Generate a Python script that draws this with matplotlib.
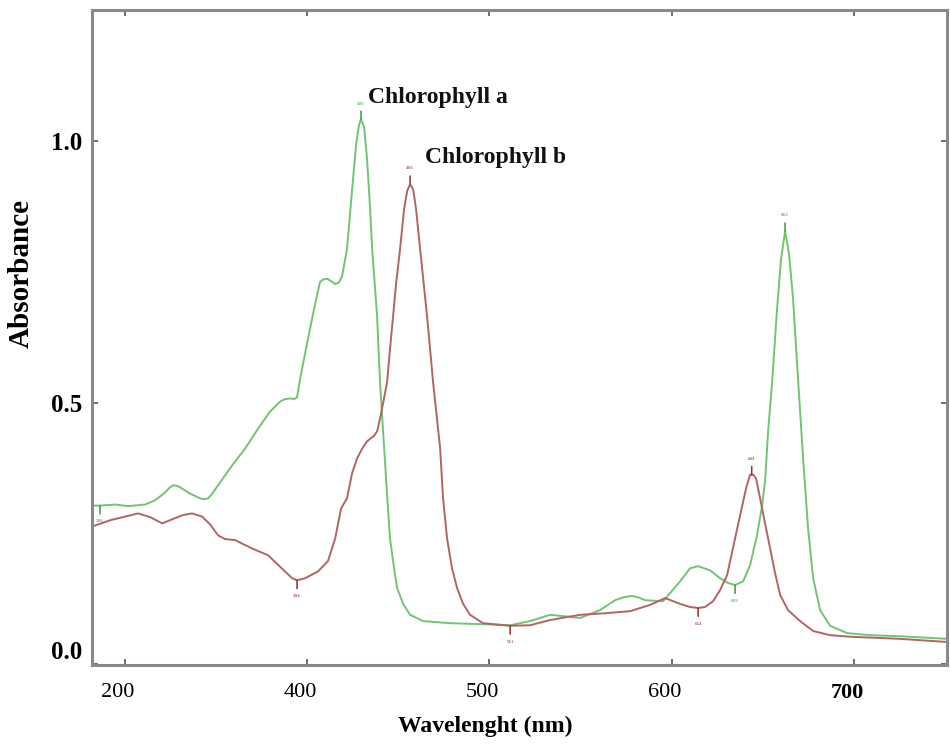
import matplotlib
matplotlib.use("Agg")
import matplotlib.pyplot as plt
from matplotlib.transforms import ScaledTranslation

# Chlorophyll a (green trace)
chl_a_nm = [282.1, 286.4, 294.7, 301.8, 311.1, 316.6, 322.1, 324.5, 326.5, 328.5,
            330.3, 335.8, 341.3, 343.5, 345.7, 348.0, 351.2, 358.9, 366.0, 373.1,
            379.7, 385.2, 388.0, 390.7, 393.0, 394.5, 396.2, 398.9, 401.6, 404.4,
            407.1, 409.0, 411.0, 413.0, 415.4, 417.5, 419.2, 421.9, 424.7,
            426.9, 428.5, 429.6, 431.3, 432.9, 434.6, 435.7, 438.4, 440.0, 441.7,
            443.9, 445.5, 447.7, 449.4, 452.7, 456.5, 463.6, 478.4, 496.5, 511.4,
            522.3, 533.3, 549.8, 560.7, 569.0, 574.0, 578.3, 582.0, 585.4, 595.3,
            604.6, 610.1, 614.5, 621.1, 626.5, 630.9, 634.8, 639.2, 643.0, 646.8,
            649.6, 651.2, 652.9, 655.1, 657.8, 660.0, 662.2, 664.4, 666.6, 669.3,
            672.1, 674.8, 677.6, 681.4, 686.9, 696.2, 708.8, 725.3, 751.1]
chl_a_abs = [0.303, 0.303, 0.305, 0.302, 0.305, 0.313, 0.328, 0.337, 0.342, 0.341,
             0.338, 0.326, 0.317, 0.315, 0.317, 0.326, 0.342, 0.380, 0.412, 0.450,
             0.483, 0.502, 0.507, 0.508, 0.507, 0.510, 0.546, 0.594, 0.641, 0.689,
             0.731, 0.736, 0.737, 0.733, 0.727, 0.730, 0.742, 0.794, 0.908,
             0.994, 1.032, 1.042, 1.027, 0.966, 0.870, 0.794, 0.666, 0.540, 0.445,
             0.323, 0.240, 0.183, 0.145, 0.115, 0.094, 0.082, 0.078, 0.076, 0.074,
             0.082, 0.094, 0.088, 0.103, 0.122, 0.128, 0.130, 0.127, 0.122, 0.120,
             0.158, 0.183, 0.187, 0.179, 0.164, 0.155, 0.151, 0.158, 0.189, 0.246,
             0.303, 0.349, 0.445, 0.540, 0.679, 0.775, 0.828, 0.784, 0.698, 0.546,
             0.393, 0.260, 0.164, 0.103, 0.073, 0.059, 0.055, 0.053, 0.048]

# Chlorophyll b (red trace)
chl_b_nm = [282.1, 292.0, 300.2, 307.3, 313.9, 320.5, 327.6, 332.0, 336.9, 342.4,
            346.8, 351.2, 355.0, 360.5, 369.8, 378.6, 387.9, 391.8, 394.5, 398.9,
            406.0, 411.5, 415.4, 418.7, 421.9, 424.7, 427.4, 430.2, 432.9, 436.8,
            438.4, 440.0, 442.2, 443.9, 445.5, 447.2, 448.8, 451.0, 453.2, 454.9,
            456.5, 458.2, 459.8, 462.0, 465.8, 469.1, 473.0, 474.6, 476.8, 479.5,
            482.3, 485.6, 489.4, 496.5, 511.4, 522.3, 533.3, 549.8, 563.5, 577.2,
            588.2, 596.4, 604.6, 610.0, 614.5, 618.3, 622.7, 626.5, 630.4, 634.2,
            637.5, 640.8, 643.0, 644.7, 646.3, 648.5, 651.2, 654.0, 656.7, 659.5,
            663.8, 670.4, 677.6, 686.9, 697.9, 725.3, 751.1]
chl_b_abs = [0.263, 0.275, 0.282, 0.288, 0.281, 0.269, 0.279, 0.285, 0.288, 0.282,
             0.267, 0.246, 0.239, 0.237, 0.221, 0.208, 0.177, 0.164, 0.160, 0.164,
             0.177, 0.197, 0.240, 0.298, 0.317, 0.365, 0.393, 0.412, 0.426, 0.437,
             0.445, 0.469, 0.508, 0.540, 0.603, 0.666, 0.727, 0.794, 0.870, 0.905,
             0.918, 0.908, 0.870, 0.794, 0.666, 0.540, 0.412, 0.317, 0.240, 0.183,
             0.145, 0.115, 0.094, 0.078, 0.073, 0.074, 0.084, 0.094, 0.097, 0.101,
             0.113, 0.126, 0.115, 0.109, 0.107, 0.109, 0.120, 0.141, 0.170, 0.231,
             0.284, 0.336, 0.362, 0.362, 0.355, 0.317, 0.269, 0.221, 0.174, 0.132,
             0.103, 0.082, 0.063, 0.055, 0.052, 0.048, 0.042]

# peak / valley picks drawn by the instrument software
a_peaks = [(429.6, 1.042, "up"), (662.2, 0.828, "up"), (634.8, 0.151, "down"), (286.4, 0.303, "down")]
b_peaks = [(456.5, 0.918, "up"), (643.9, 0.362, "up"), (394.5, 0.160, "down"),
           (511.4, 0.073, "down"), (614.5, 0.107, "down")]

x_ticks = [300, 400, 500, 600, 700]
x_tick_labels = ["200", "400", "500", "600", "700"]
y_ticks = [0.0, 0.5, 1.0]
y_tick_labels = ["0.0", "0.5", "1.0"]

GREEN = "#72c472"
RED = "#b36464"
SERIF = "Liberation Serif"

fig = plt.figure(figsize=(9.5, 7.48), dpi=100)
ax = fig.add_axes([0.0968, 0.111, 0.900, 0.876])

ax.plot(chl_a_nm, chl_a_abs, color=GREEN, lw=1.4, solid_joinstyle="round")
ax.plot(chl_b_nm, chl_b_abs, color=RED, lw=1.4, solid_joinstyle="round")


def mark(picks, col):
    for x, y, side in picks:
        s = 1 if side == "up" else -1
        ax.annotate("", xy=(x, y), xytext=(0, 6 * s), textcoords="offset points",
                    arrowprops=dict(arrowstyle="-", color=col, lw=1.1,
                                    shrinkA=0, shrinkB=0))
        ax.annotate("%d" % round(x), xy=(x, y), xytext=(0, 10 * s),
                    textcoords="offset points", ha="center",
                    va="bottom" if s > 0 else "top", fontsize=3, color=col)


mark(a_peaks, "#3a9a3a")
mark(b_peaks, "#8e3030")

ax.text(433.5, 1.084, "Chlorophyll a", fontsize=17, fontweight="bold",
        family=SERIF, ha="left", va="center", color="#111111")
ax.text(464.7, 0.969, "Chlorophyll b", fontsize=17, fontweight="bold",
        family=SERIF, ha="left", va="center", color="#111111")

ax.set_xlim(282, 751)
ax.set_ylim(-0.002, 1.252)

ax.set_xticks(x_ticks)
ax.set_xticklabels(x_tick_labels, family=SERIF, fontsize=16)
ax.set_yticks(y_ticks)
ax.set_yticklabels(y_tick_labels, family=SERIF, fontsize=18, fontweight="bold")
ax.tick_params(direction="in", length=4, width=1.2, color="#555555",
               top=True, right=True)
ax.tick_params(axis="x", pad=13)
ax.tick_params(axis="y", pad=7)

for lab in ax.get_xticklabels():
    lab.set_transform(lab.get_transform() + ScaledTranslation(-0.07, 0, fig.dpi_scale_trans))
ax.get_xticklabels()[-1].set_fontweight("bold")
ax.get_yticklabels()[0].set_verticalalignment("bottom")

for sp in ax.spines.values():
    sp.set_color("#8a8a8a")
    sp.set_linewidth(2.2)

ax.set_xlabel("Wavelenght (nm)", family=SERIF, fontsize=17, fontweight="bold")
ax.xaxis.set_label_coords(0.46, -0.078)
ax.set_ylabel("Absorbance", family=SERIF, fontsize=21, fontweight="bold")
ax.yaxis.set_label_coords(-0.067, 0.598)

fig.savefig("out.png", dpi=100)
